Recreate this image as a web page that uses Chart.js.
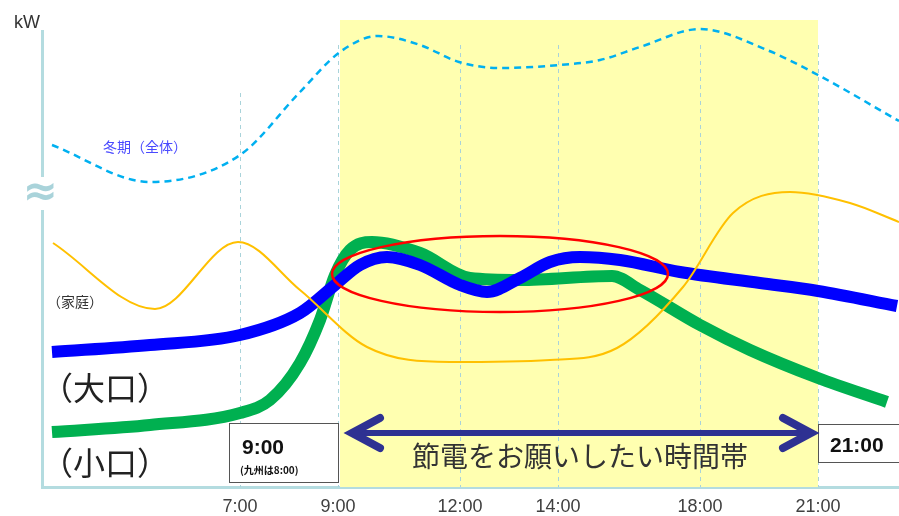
<!DOCTYPE html>
<html>
<head>
<meta charset="utf-8">
<script src="https://cdn.jsdelivr.net/npm/chart.js@4/dist/chart.umd.min.js"></script>
<style>
  html, body { margin: 0; padding: 0; background: #fff; }
  canvas { display: block; }
</style>
</head>
<body>
<canvas id="c" width="899" height="516"></canvas>
<script>
// 横軸の目盛り（時刻）
const tickPos = [19.8, 29.6, 41.8, 51.6, 65.8, 77.6];
const tickLabels = ['7:00', '9:00', '12:00', '14:00', '18:00', '21:00'];
const gridTop = [78.8, 88.4, 88.4, 88.4, 88.4, 88.4];

// 冬期（全体）
const winterX = [1.0, 10.8, 19.8, 25.8, 29.8, 33.6, 37.8, 41.7, 45.8, 51.8, 55.8, 59.8, 65.8, 72.5, 77.6, 85.7];
const winterY = [68.4, 61, 66.4, 79, 87, 90.2, 88.4, 85, 83.8, 84.4, 85.4, 88, 91.6, 87.4, 82.4, 73.2];

// 家庭
const homeX = [1.1, 11.3, 19.6, 25.8, 32.5, 40.8, 50.8, 57.5, 64.1, 69.1, 74.8, 80.8, 85.7];
const homeY = [48.8, 35.6, 49, 39.4, 28, 25, 25.4, 27.8, 40, 54.8, 59, 56.8, 53];

// 大口
const largeX = [1.0, 10.8, 19.8, 25.8, 29.3, 31.8, 34.5, 37.8, 41.8, 44.5, 47.8, 50.8, 53.8, 57.8, 63.8, 71.8, 77.6, 85.5];
const largeY = [27, 28.4, 30.4, 34.8, 40.4, 44.4, 46, 44.4, 40.4, 39, 41.8, 45, 46, 45.4, 43, 40.8, 39.2, 36.2];

// 小口
const smallX = [1.0, 10.8, 19.8, 22.8, 25.8, 27.8, 29.3, 30.8, 33.0, 37.8, 42.8, 47.8, 57.0, 59.8, 65.8, 70.8, 77.6, 84.5];
const smallY = [11, 12.4, 14.8, 17.4, 24.8, 33.4, 42.4, 47.4, 49, 46.8, 41.8, 41.4, 42.2, 39.4, 32.4, 27.4, 21.8, 17];

// 節電をお願いしたい時間帯
const bandFrom = 29.8, bandTo = 77.6;

const pts = (xs, ys) => xs.map((x, i) => ({ x: x, y: ys[i] }));

const line = (label, xs, ys, color, width, dash) => ({
  label: label,
  data: pts(xs, ys),
  borderColor: color,
  borderWidth: width,
  borderDash: dash || [],
  borderCapStyle: 'butt',
  pointRadius: 0,
  cubicInterpolationMode: 'monotone',
  fill: false
});

const JP = '"Noto Sans CJK JP", sans-serif';

const deco = {
  id: 'deco',
  beforeDatasetsDraw(chart) {
    const { ctx, chartArea: a, scales: { x, y } } = chart;
    ctx.save();
    // 黄色の帯
    ctx.fillStyle = '#ffffb0';
    ctx.fillRect(x.getPixelForValue(bandFrom), a.top, x.getPixelForValue(bandTo) - x.getPixelForValue(bandFrom), a.bottom - a.top);
    // 点線の縦線
    ctx.strokeStyle = '#a9d3da';
    ctx.lineWidth = 1;
    ctx.setLineDash([4, 4]);
    tickPos.forEach((v, i) => {
      const px = Math.round(x.getPixelForValue(v)) + 0.5;
      ctx.beginPath();
      ctx.moveTo(px, y.getPixelForValue(gridTop[i]));
      ctx.lineTo(px, a.bottom);
      ctx.stroke();
    });
    ctx.restore();
  },
  afterDatasetsDraw(chart) {
    const { ctx, scales: { x, y } } = chart;
    const X = v => x.getPixelForValue(v), Y = v => y.getPixelForValue(v);
    ctx.save();
    // 赤い楕円
    ctx.strokeStyle = '#ff0000';
    ctx.lineWidth = 2.5;
    ctx.beginPath();
    ctx.ellipse(X(45.8), Y(42.6), X(45.8 + 16.8) - X(45.8), Y(42.6) - Y(42.6 + 7.6), 0, 0, Math.PI * 2);
    ctx.stroke();

    // ラベル
    ctx.textBaseline = 'middle';
    ctx.textAlign = 'center';
    ctx.fillStyle = '#4a4aff';
    ctx.font = '14px ' + JP;
    ctx.fillText('冬期（全体）', X(10.3), Y(68));
    ctx.fillStyle = '#333';
    ctx.font = '14px ' + JP;
    ctx.fillText('（家庭）', X(3.3), Y(37));
    ctx.fillStyle = '#222';
    ctx.font = '32px ' + JP;
    ctx.fillText('（大口）', X(6.3), Y(19.8));
    ctx.fillText('（小口）', X(6.3), Y(4.8));

    // 9:00 の枠
    ctx.fillStyle = '#fff';
    ctx.strokeStyle = '#555';
    ctx.lineWidth = 1;
    ctx.fillRect(X(18.7), Y(12.8), X(29.6) - X(18.7), Y(1) - Y(12.8));
    ctx.strokeRect(X(18.7) + 0.5, Y(12.8) + 0.5, X(29.6) - X(18.7), Y(1) - Y(12.8));
    ctx.fillStyle = '#111';
    ctx.textAlign = 'left';
    ctx.textBaseline = 'alphabetic';
    ctx.font = 'bold 21px "Liberation Sans", Arial, sans-serif';
    ctx.fillText('9:00', X(20), Y(6.6));
    ctx.font = 'bold 10px ' + JP;
    ctx.fillText('(九州は8:00)', X(19.8), Y(2.6));

    // 21:00 の枠
    ctx.fillStyle = '#fff';
    ctx.fillRect(X(77.6), Y(12.6), X(86) - X(77.6), Y(5) - Y(12.6));
    ctx.strokeRect(X(77.6) + 0.5, Y(12.6) + 0.5, X(86) - X(77.6), Y(5) - Y(12.6));
    ctx.fillStyle = '#111';
    ctx.font = 'bold 21px "Liberation Sans", Arial, sans-serif';
    ctx.fillText('21:00', X(78.8), Y(7));

    // 両矢印
    const l = X(30.8), r = X(77.1), ay = Y(10.8);
    ctx.strokeStyle = '#2e3192';
    ctx.lineWidth = 6;
    ctx.beginPath();
    ctx.moveTo(l + 4, ay); ctx.lineTo(r - 4, ay);
    ctx.stroke();
    ctx.lineWidth = 8;
    ctx.lineCap = 'round';
    ctx.lineJoin = 'miter';
    ctx.beginPath();
    ctx.moveTo(l + 30, ay - 15); ctx.lineTo(l + 2, ay); ctx.lineTo(l + 30, ay + 15);
    ctx.moveTo(r - 30, ay - 15); ctx.lineTo(r - 2, ay); ctx.lineTo(r - 30, ay + 15);
    ctx.stroke();

    ctx.fillStyle = '#333';
    ctx.textAlign = 'center';
    ctx.textBaseline = 'middle';
    ctx.font = '28px ' + JP;
    ctx.fillText('節電をお願いしたい時間帯', X(53.8), Y(6.2));
    ctx.restore();
  },
  afterDraw(chart) {
    const { ctx, chartArea: a, scales: { y } } = chart;
    ctx.save();
    // 縦軸の省略記号
    ctx.fillStyle = '#fff';
    ctx.fillRect(a.left - 5, a.top - 5, 10, 15);
    ctx.fillRect(a.left - 5, y.getPixelForValue(62), 10, y.getPixelForValue(55.4) - y.getPixelForValue(62));
    ctx.fillStyle = '#a9d3da';
    ctx.font = 'bold 42px "DejaVu Sans", sans-serif';
    ctx.textAlign = 'center';
    ctx.textBaseline = 'middle';
    ctx.fillText('≈', a.left - 2, y.getPixelForValue(58.6));
    ctx.fillStyle = '#333';
    ctx.font = '18px "Liberation Sans", Arial, sans-serif';
    ctx.textAlign = 'left';
    ctx.fillText('kW', 14, a.top + 3);
    ctx.restore();
  }
};

new Chart(document.getElementById('c'), {
  type: 'line',
  data: {
    datasets: [
      line('家庭', homeX, homeY, '#ffc000', 2),
      line('冬期（全体）', winterX, winterY, '#00b0f0', 2.5, [7, 5]),
      line('大口', largeX, largeY, '#0000ff', 12),
      line('小口', smallX, smallY, '#00b050', 12)
    ]
  },
  options: {
    responsive: false,
    animation: false,
    layout: { padding: { top: 20, right: 0, left: 0, bottom: 0 } },
    plugins: { legend: { display: false }, tooltip: { enabled: false } },
    scales: {
      x: {
        type: 'linear',
        min: 0,
        max: 85.7,
        afterFit: s => { s.height = 29; },
        afterBuildTicks: s => { s.ticks = tickPos.map(v => ({ value: v })); },
        grid: { display: false },
        border: { color: '#b4dce0', width: 3 },
        ticks: {
          autoSkip: false,
          maxRotation: 0,
          padding: 1,
          color: '#404040',
          font: { size: 18, family: '"Liberation Sans", Arial, sans-serif' },
          callback: v => tickLabels[tickPos.indexOf(v)]
        }
      },
      y: {
        type: 'linear',
        min: 0,
        max: 93.4,
        afterFit: s => { s.width = 42; },
        grid: { display: false },
        border: { color: '#b4dce0', width: 3 },
        ticks: { display: false }
      }
    }
  },
  plugins: [deco]
});
</script>
</body>
</html>
